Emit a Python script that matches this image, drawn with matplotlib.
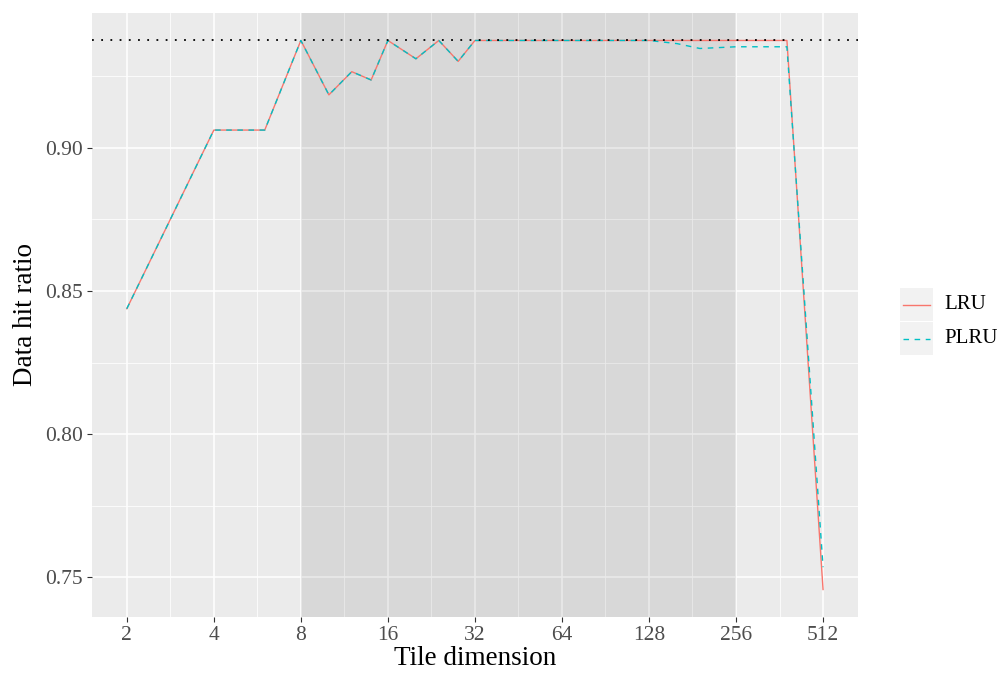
import matplotlib.pyplot as plt
import numpy as np
from matplotlib.ticker import FixedLocator, NullFormatter

plt.rcParams['font.family'] = ['Liberation Serif', 'DejaVu Serif']

tile_lru = [2, 4, 6, 8, 10, 12, 14, 16, 20, 24, 28, 32, 64, 128, 160, 192, 256, 384, 512]
hit_lru = [0.8438, 0.9062, 0.9062, 0.9375, 0.9185, 0.9266, 0.9237, 0.9375, 0.9311, 0.9375,
           0.9302, 0.9375, 0.9375, 0.9375, 0.9375, 0.9375, 0.9375, 0.9375, 0.7457]
tile_plru = [2, 4, 6, 8, 10, 12, 14, 16, 20, 24, 28, 32, 64, 128, 160, 192, 256, 384, 512]
hit_plru = [0.8438, 0.9062, 0.9062, 0.9375, 0.9185, 0.9266, 0.9237, 0.9375, 0.9311, 0.9375,
            0.9302, 0.9375, 0.9375, 0.9375, 0.9364, 0.9347, 0.9353, 0.9353, 0.7535]
ref_ratio = 0.9375
shade_from, shade_to = 8, 256
xticks = [2, 4, 8, 16, 32, 64, 128, 256, 512]
yticks = [0.75, 0.80, 0.85, 0.90]

lru_col = '#F8766D'
plru_col = '#00BFC4'

fig = plt.figure(figsize=(10.01, 6.73), dpi=100)
ax = fig.add_axes([0.0919, 0.0832, 0.857 - 0.0919, 0.9807 - 0.0832])
ax.set_facecolor('#EBEBEB')
for s in ax.spines.values():
    s.set_visible(False)

ax.set_xscale('log', base=2)
ax.set_xlim(2 ** 0.6, 2 ** 9.4)
ax.set_ylim(0.7361, 0.9471)

ax.xaxis.set_major_locator(FixedLocator(xticks))
ax.set_xticklabels([str(t) for t in xticks])
ax.xaxis.set_minor_locator(FixedLocator([2 ** (k + 0.5) for k in range(0, 10)]))
ax.xaxis.set_minor_formatter(NullFormatter())
ax.yaxis.set_major_locator(FixedLocator(yticks))
ax.set_yticklabels(['%.2f' % t for t in yticks])
ax.yaxis.set_minor_locator(FixedLocator([0.725, 0.775, 0.825, 0.875, 0.925]))

ax.grid(which='major', color='white', linewidth=1.1)
ax.grid(which='minor', color='white', linewidth=0.55)
ax.set_axisbelow(True)

ax.tick_params(which='major', length=3.5, width=0.8, color='#333333',
               labelcolor='#4D4D4D', labelsize=15.5, pad=3)
ax.tick_params(which='minor', length=0)

ax.axvspan(shade_from, shade_to, color='black', alpha=0.08, linewidth=0, zorder=1)

ax.plot(tile_lru, hit_lru, color=lru_col, linewidth=1.0, zorder=3)
ax.plot(tile_plru, hit_plru, color=plru_col, linewidth=1.0, linestyle=(0, (4, 4)), zorder=4)
ax.axhline(ref_ratio, color='black', linewidth=1.3, linestyle=(0, (1, 4.1)), zorder=5)

ax.set_xlabel('Tile dimension', fontsize=19.5, labelpad=1)
ax.set_ylabel('Data hit ratio', fontsize=19.5, labelpad=5)

# legend keys
W, H = 1001.0, 673.0
keys = [('LRU', lru_col, '-', 288), ('PLRU', plru_col, (0, (4, 4)), 322)]
for name, col, ls, top in keys:
    kax = fig.add_axes([900 / W, 1 - (top + 33) / H, 33 / W, 33 / H])
    kax.set_facecolor('#F2F2F2')
    for s in kax.spines.values():
        s.set_visible(False)
    kax.set_xticks([])
    kax.set_yticks([])
    kax.set_xlim(0, 1)
    kax.set_ylim(0, 1)
    kax.plot([0.1, 0.9], [0.5, 0.5], color=col, linewidth=1.0, linestyle=ls)
    fig.text(944 / W, 1 - (top + 16.5) / H, name, fontsize=15, va='center', ha='left')

fig.savefig('out.png', dpi=100)
